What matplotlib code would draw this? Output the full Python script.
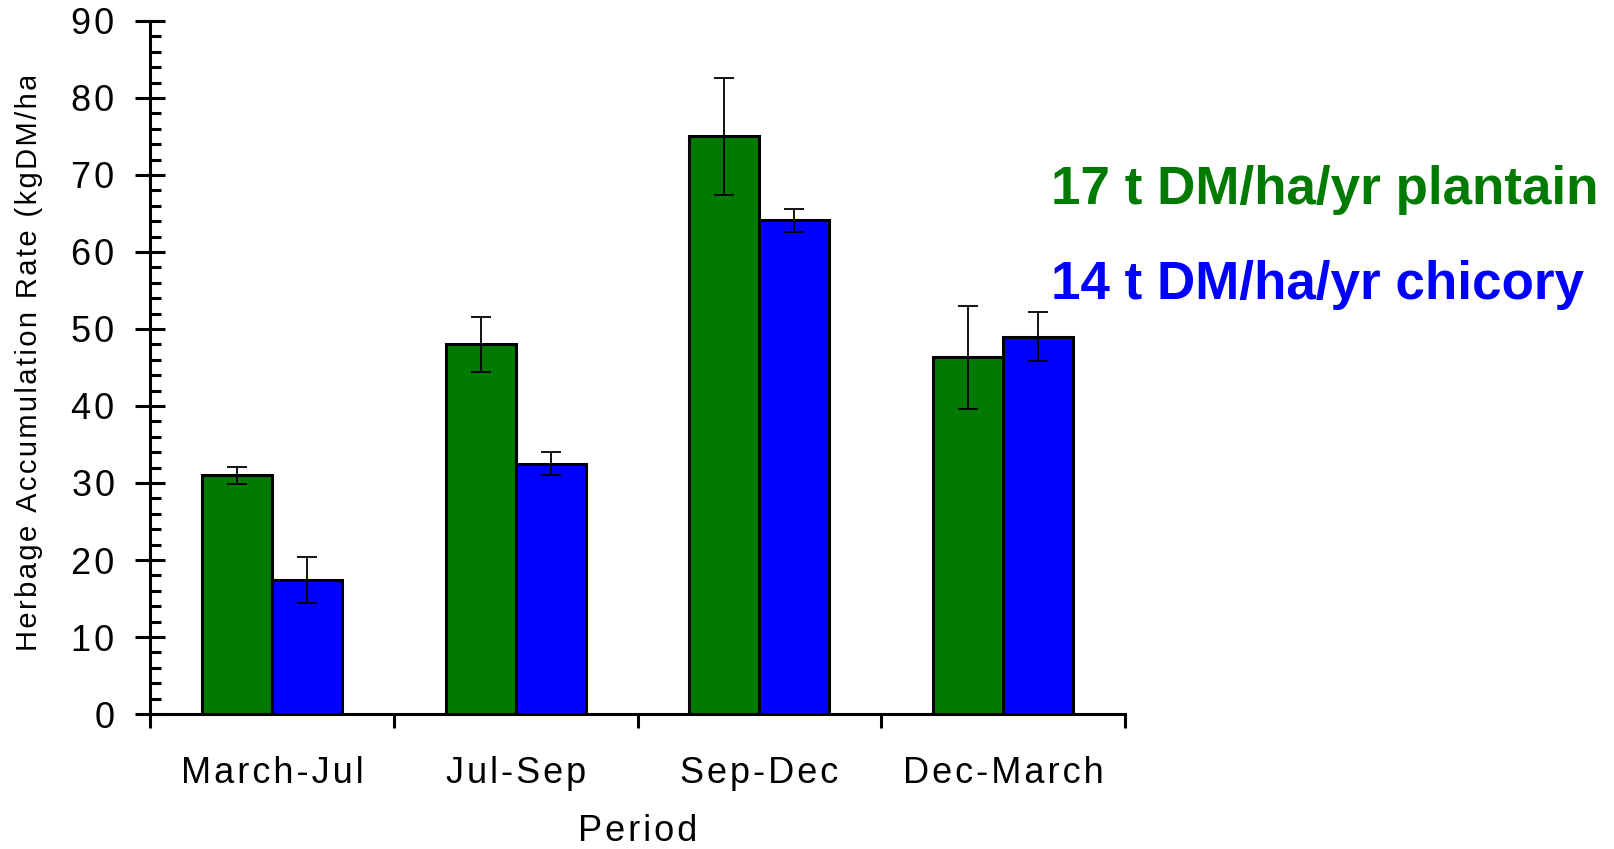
import numpy as np
import matplotlib
matplotlib.use('Agg')
import matplotlib.pyplot as plt
from matplotlib.patches import Rectangle
from matplotlib.ticker import MultipleLocator, FixedLocator, NullFormatter, FuncFormatter

plt.rcParams['font.family'] = ['Liberation Sans', 'DejaVu Sans']

# Herbage accumulation rate per period (kg DM/ha/day) with error bars
periods = ['March-Jul', 'Jul-Sep', 'Sep-Dec', 'Dec-March']
plantain = [31.0, 48.0, 75.0, 46.3]
plantain_err = [1.1, 3.6, 7.6, 6.7]
chicory = [17.4, 32.5, 64.1, 49.0]
chicory_err = [3.0, 1.5, 1.5, 3.2]


def spaced(s):
    # loose letter spacing using hair spaces
    return '\u200a'.join(s)


fig = plt.figure(figsize=(16.15, 8.49), dpi=100)
ax = fig.add_axes([0.0929, 0.159, 0.6037, 0.8163])

x = np.arange(len(periods))
w = 0.287
err_kw = dict(ecolor='black', elinewidth=1.3, capsize=7, capthick=1.3)
ax.bar(x - w / 2, plantain, w, yerr=plantain_err, color='#007a00',
       edgecolor='black', linewidth=2.2, error_kw=err_kw, zorder=2)
ax.bar(x + w / 2, chicory, w, yerr=chicory_err, color='#0000ff',
       edgecolor='black', linewidth=2.2, error_kw=err_kw, zorder=2)

ax.set_xlim(-0.5, len(periods) - 0.5)
ax.set_ylim(0, 90)

for side in ['top', 'right']:
    ax.spines[side].set_visible(False)
for side in ['left', 'bottom']:
    ax.spines[side].set_linewidth(2.2)

# y axis: crossing major ticks every 10, inward minor ticks every 2
ax.yaxis.set_major_locator(MultipleLocator(10))
ax.yaxis.set_minor_locator(MultipleLocator(2))
ax.yaxis.set_major_formatter(FuncFormatter(lambda v, p: spaced('%d' % v)))
ax.tick_params(axis='y', which='major', direction='inout', length=21, width=2.2,
               pad=15, labelsize=26)
ax.tick_params(axis='y', which='minor', direction='in', length=8, width=2.2)

# x axis: ticks between periods, labels centred under each pair
ax.xaxis.set_major_locator(FixedLocator(np.arange(len(periods) + 1) - 0.5))
ax.xaxis.set_major_formatter(NullFormatter())
ax.set_xticks(x, [spaced(p) for p in periods], minor=True)
ax.tick_params(axis='x', which='major', direction='out', length=10, width=2.2)
ax.tick_params(axis='x', which='minor', length=0, pad=30, labelsize=26)

ax.set_xlabel(spaced('Period'), fontsize=26, labelpad=17)

# y label, cut off at the top
ylab = fig.text(0.018, 1 - 651 / 849, spaced('Herbage Accumulation Rate (kgDM/ha/day)'),
                rotation=90, ha='center', va='bottom', fontsize=21)
clip = Rectangle((0, 0), 1, 1 - 77 / 849, transform=fig.transFigure)
ylab.set_clip_path(clip)

fig.text(0.651, 1 - 204 / 849, '17 t DM/ha/yr plantain', color='#007a00',
         fontsize=38.2, fontweight='bold', ha='left', va='baseline')
fig.text(0.651, 1 - 299 / 849, '14 t DM/ha/yr chicory', color='#0000ff',
         fontsize=38.2, fontweight='bold', ha='left', va='baseline')

fig.savefig('out.png', dpi=100)
